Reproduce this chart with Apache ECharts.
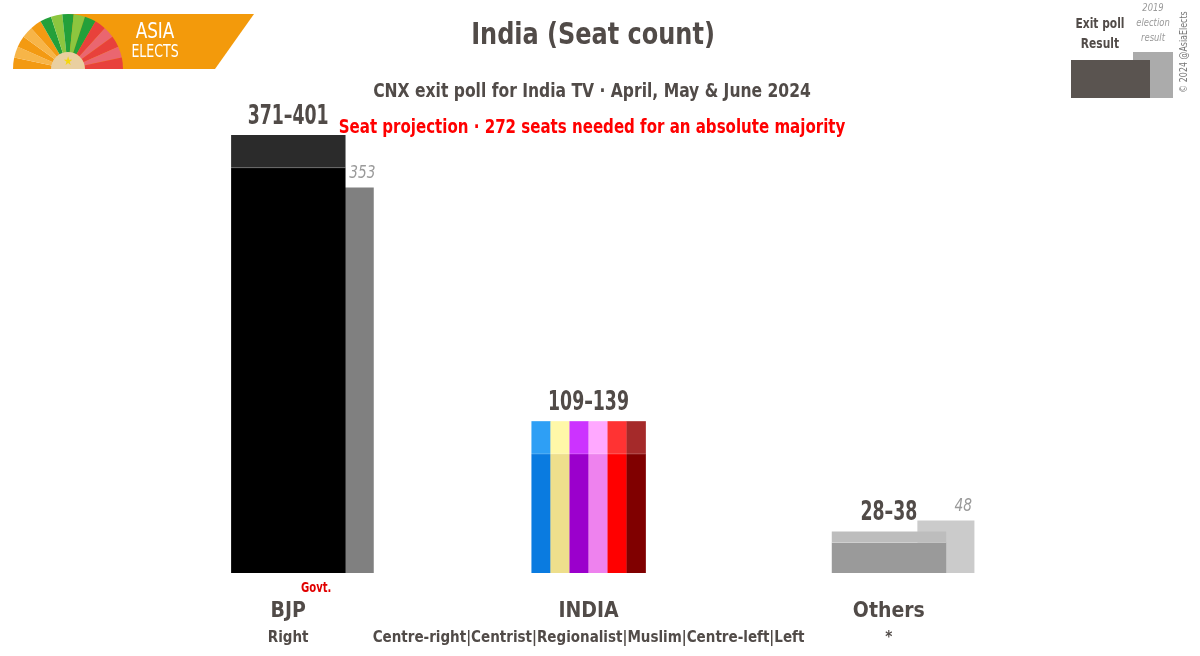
<!DOCTYPE html>
<html>
<head>
<meta charset="utf-8">
<title>India (Seat count)</title>
<script src="https://cdn.jsdelivr.net/npm/echarts@6/dist/echarts.min.js"></script>
<style>
  html, body { margin: 0; padding: 0; background: #fff; }
  #chart { width: 1200px; height: 656px; }
</style>
</head>
<body>
<div id="chart"></div>
<script>
// data
const parties = ['BJP', 'INDIA', 'Others'];
const alignments = ['Right', 'Centre-right|Centrist|Regionalist|Muslim|Centre-left|Left', '*'];
const seatsLow = [371, 109, 28];
const seatsHigh = [401, 139, 38];
const seats2019 = [353, null, 48];
const govtFlag = [true, false, false];

// colours (one list per party, INDIA is striped by member party)
const lowColors = [
    ['#000000'],
    ['#0A7BE0', '#EEDF8C', '#9B00CC', '#EE82EE', '#FF0000', '#800000'],
    ['#9A9A9A']
];
const highColors = [
    ['#2B2B2B'],
    ['#2E9FF5', '#FFF8A8', '#CC33FF', '#FFA8FF', '#FF3333', '#A52A2A'],
    ['#BDBDBD']
];
const prevColors = ['#808080', null, '#CBCBCB'];

const FONT = '"DejaVu Sans Condensed", "Liberation Sans", sans-serif';
const TXT = '#514b48';

const chartDom = document.getElementById('chart');
const myChart = echarts.init(chartDom);

// exit poll bar: solid low part + lighter range part
function renderExit(params, api) {
    const i = api.value(0);
    const lo = api.value(1);
    const hi = api.value(2);
    const band = api.size([1, 0])[0];
    const w = band * 0.38;
    const base = api.coord([i, 0]);
    const pLo = api.coord([i, lo]);
    const pHi = api.coord([i, hi]);
    const x0 = base[0] - w / 2;
    const lows = lowColors[i];
    const highs = highColors[i];
    const sw = w / lows.length;
    const children = [];
    lows.forEach((c, k) => {
        children.push({
            type: 'rect',
            shape: { x: x0 + k * sw, y: pLo[1], width: sw + 0.3, height: base[1] - pLo[1] },
            style: { fill: c }
        });
        children.push({
            type: 'rect',
            shape: { x: x0 + k * sw, y: pHi[1], width: sw + 0.3, height: pLo[1] - pHi[1] },
            style: { fill: highs[k] }
        });
    });
    children.push({
        type: 'rect',
        shape: { x: x0, y: pLo[1] - 0.5, width: w, height: 1 },
        style: { fill: 'rgba(255,255,255,0.18)' }
    });
    children.push({
        type: 'text',
        x: base[0],
        y: pHi[1] - 5,
        scaleX: 0.74,
        style: {
            text: lo + '–' + hi,
            align: 'center',
            verticalAlign: 'bottom',
            fill: TXT,
            fontFamily: FONT,
            fontWeight: 'bold',
            fontSize: 26
        }
    });
    if (govtFlag[i]) {
        children.push({
            type: 'text',
            x: base[0] + 28,
            y: base[1] + 15,
            scaleX: 0.8,
            style: {
                text: 'Govt.',
                align: 'center',
                verticalAlign: 'middle',
                fill: '#E00000',
                fontFamily: FONT,
                fontWeight: 'bold',
                fontSize: 14
            }
        });
    }
    return { type: 'group', children };
}

// 2019 result bar, half width, tucked behind the right edge of the exit poll bar
function renderPrev(params, api) {
    const i = api.value(0);
    const v = api.value(1);
    const band = api.size([1, 0])[0];
    const w = band * 0.38;
    const pw = w / 2;
    const base = api.coord([i, 0]);
    const p = api.coord([i, v]);
    const x0 = base[0] + w / 2 - pw / 2;
    return {
        type: 'group',
        children: [
            {
                type: 'rect',
                shape: { x: x0, y: p[1], width: pw, height: base[1] - p[1] },
                style: { fill: prevColors[i] }
            },
            {
                type: 'text',
                x: base[0] + w / 2 + pw / 4 + 3,
                y: p[1] - 5,
                scaleX: 0.85,
                style: {
                    text: String(v),
                    align: 'center',
                    verticalAlign: 'bottom',
                    fill: '#9a9a9a',
                    fontFamily: FONT,
                    fontStyle: 'italic',
                    fontSize: 18
                }
            }
        ]
    };
}

// Asia Elects logo fan
const fanColors = [
    '#F39A12', '#F7B548', '#F39A12', '#F7B548', '#F39A12',
    '#23A03A', '#8CC63F', '#23A03A', '#8CC63F', '#23A03A',
    '#E8413B', '#EA6670', '#E8413B', '#EA6670', '#E8413B'
];
const fanEls = fanColors.map((c, k) => ({
    type: 'sector',
    shape: {
        cx: 68, cy: 69, r: 55, r0: 0,
        startAngle: Math.PI + k * Math.PI / fanColors.length,
        endAngle: Math.PI + (k + 1) * Math.PI / fanColors.length,
        clockwise: true
    },
    style: { fill: c }
}));

function label(text, x, y, size, opts) {
    const o = opts || {};
    return {
        type: 'text', x, y,
        scaleX: o.scaleX || 1,
        rotation: o.rotation || 0,
        style: {
            text,
            fill: o.fill || TXT,
            fontFamily: FONT,
            fontWeight: o.weight || 'bold',
            fontStyle: o.style || 'normal',
            fontSize: size,
            lineHeight: o.lineHeight,
            align: 'center',
            verticalAlign: 'middle'
        }
    };
}

const option = {
    backgroundColor: '#ffffff',
    animation: false,
    grid: { left: 138, right: 161, top: 135, bottom: 83 },
    xAxis: {
        type: 'category',
        data: parties,
        axisLine: { show: false },
        axisTick: { show: false },
        axisLabel: {
            interval: 0,
            margin: 26,
            formatter: (v, i) => '{n|' + v + '}\n{s|' + alignments[i] + '}',
            rich: {
                n: { fontFamily: FONT, fontSize: 21, fontWeight: 'bold', color: TXT, lineHeight: 26 },
                s: { fontFamily: FONT, fontSize: 15, fontWeight: 'bold', color: TXT, lineHeight: 26 }
            }
        }
    },
    yAxis: {
        type: 'value',
        min: 0,
        max: 401,
        show: false,
        splitLine: { show: false }
    },
    series: [
        {
            name: '2019 election result',
            type: 'custom',
            z: 1,
            renderItem: renderPrev,
            encode: { x: 0, y: 1 },
            data: seats2019.map((v, i) => [i, v]).filter(d => d[1] != null)
        },
        {
            name: 'Exit poll',
            type: 'custom',
            z: 2,
            renderItem: renderExit,
            encode: { x: 0, y: [1, 2] },
            data: parties.map((p, i) => [i, seatsLow[i], seatsHigh[i]])
        }
    ],
    graphic: [
        // logo
        {
            type: 'polygon',
            shape: { points: [[68, 14], [254, 14], [215, 69], [68, 69]] },
            style: { fill: '#F39A0B' }
        },
        ...fanEls,
        {
            type: 'sector',
            shape: { cx: 68, cy: 69, r: 17, r0: 0, startAngle: Math.PI, endAngle: 2 * Math.PI, clockwise: true },
            style: { fill: '#E9CFA0' }
        },
        label('★', 68, 62, 12, { fill: '#F5D60A', weight: 'normal' }),
        label('ASIA', 155, 32, 22, { fill: '#fff', weight: 'normal', scaleX: 0.85 }),
        label('ELECTS', 155, 53, 17, { fill: '#fff', weight: 'normal', scaleX: 0.82 }),
        // titles
        label('India (Seat count)', 593, 36, 31, { scaleX: 0.86 }),
        label('CNX exit poll for India TV · April, May & June 2024', 592, 92, 19, { scaleX: 0.91 }),
        label('Seat projection · 272 seats needed for an absolute majority', 592, 128, 19, { fill: '#FF0000', scaleX: 0.88 }),
        // legend
        {
            type: 'rect', shape: { x: 1133, y: 52, width: 40, height: 46 },
            style: { fill: '#ABABAB' }
        },
        {
            type: 'rect', shape: { x: 1071, y: 60, width: 79, height: 38 },
            style: { fill: '#5A5450' }
        },
        label('Exit poll', 1100, 24, 14, { scaleX: 0.85 }),
        label('Result', 1100, 44, 14, { scaleX: 0.85 }),
        label('2019\nelection\nresult', 1153, 23, 11, { fill: '#9a9a9a', weight: 'normal', style: 'italic', lineHeight: 15, scaleX: 0.85 }),
        label('© 2024 @AsiaElects', 1184, 52, 11, { fill: '#777', weight: 'normal', rotation: Math.PI / 2, scaleX: 0.8 })
    ]
};

myChart.setOption(option);

const resizeObserver = new ResizeObserver(() => {
    myChart.resize();
});
resizeObserver.observe(chartDom);
</script>
</body>
</html>
